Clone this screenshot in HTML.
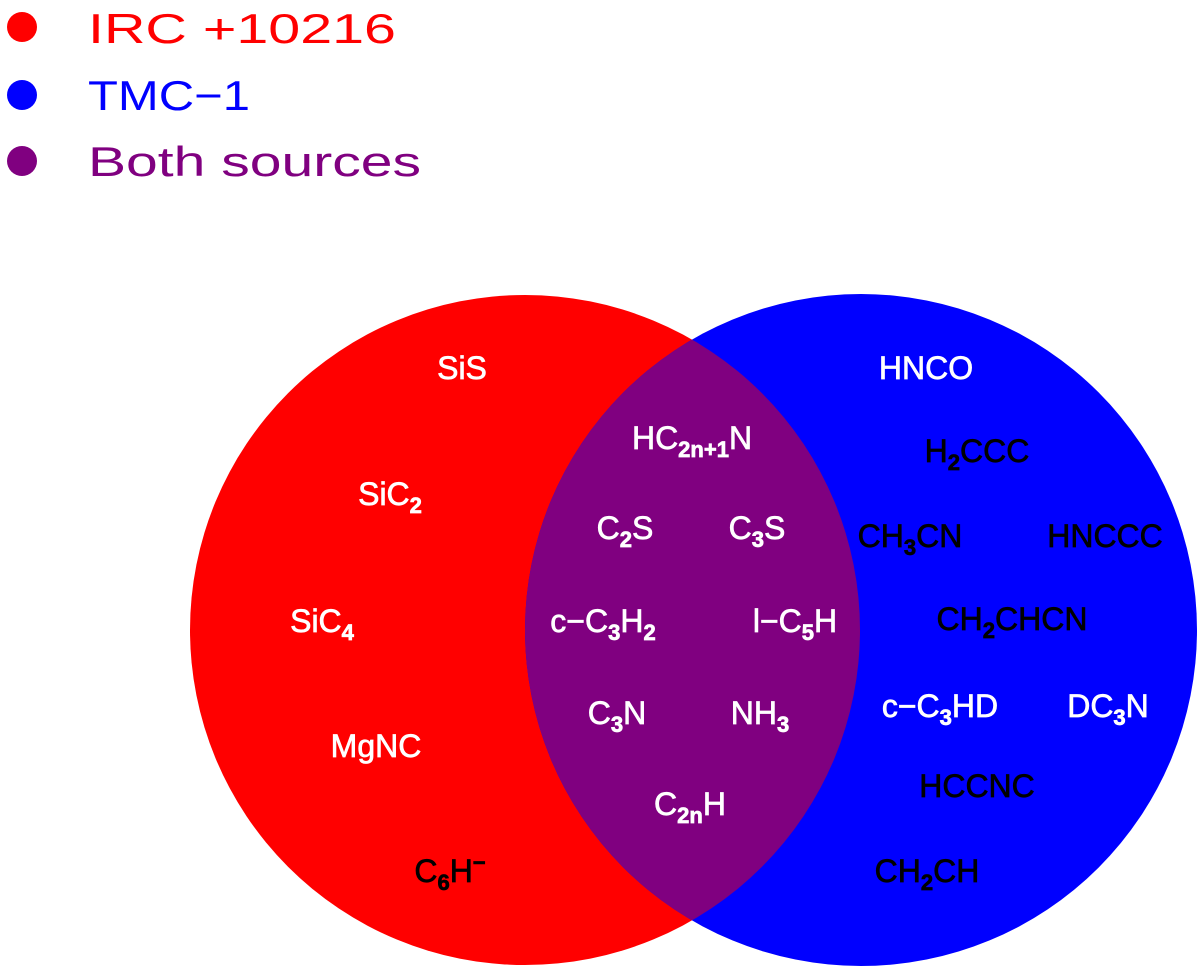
<!DOCTYPE html>
<html><head><meta charset="utf-8"><style>
html,body{margin:0;padding:0;background:#fff;}
svg{display:block;}
text{font-family:"Liberation Sans",sans-serif;}
.l{font-size:32px;text-anchor:middle;stroke-width:0.7;}
.w{fill:#fff;stroke:#fff;} .b{fill:#000;stroke:#000;}
.s{font-size:22px;font-weight:bold;}
</style></head><body>
<svg width="1200" height="969" viewBox="0 0 1200 969" xmlns="http://www.w3.org/2000/svg">
<defs><clipPath id="cr"><circle cx="525" cy="630" r="335"/></clipPath></defs>
<circle cx="22" cy="27" r="15" fill="#ff0000"/>
<circle cx="22" cy="95" r="15" fill="#0000ff"/>
<circle cx="22" cy="161" r="15" fill="#800080"/>
<text x="88" y="43" font-size="42" fill="#ff0000" textLength="308" lengthAdjust="spacingAndGlyphs">IRC +10216</text>
<text x="88" y="110" font-size="42" fill="#0000ff" textLength="162" lengthAdjust="spacingAndGlyphs">TMC−1</text>
<text x="88" y="176" font-size="42" fill="#800080" textLength="333" lengthAdjust="spacingAndGlyphs">Both sources</text>

<circle cx="525" cy="630" r="335" fill="#ff0000"/>
<circle cx="861" cy="630" r="336" fill="#0000ff"/>
<circle cx="861" cy="630" r="336" fill="#800080" clip-path="url(#cr)"/>

<g class="l w">
<text x="462" y="379">SiS</text>
<text x="390" y="505">SiC<tspan class="s" dy="8">2</tspan></text>
<text x="322" y="632">SiC<tspan class="s" dy="8">4</tspan></text>
<text x="376" y="757">MgNC</text>
<text x="692" y="449">HC<tspan class="s" dy="8">2n+1</tspan><tspan dy="-8">N</tspan></text>
<text x="625" y="539">C<tspan class="s" dy="8">2</tspan><tspan dy="-8">S</tspan></text>
<text x="757" y="539">C<tspan class="s" dy="8">3</tspan><tspan dy="-8">S</tspan></text>
<text x="603" y="632">c−C<tspan class="s" dy="8">3</tspan><tspan dy="-8">H</tspan><tspan class="s" dy="8">2</tspan></text>
<text x="795" y="632">l−C<tspan class="s" dy="8">5</tspan><tspan dy="-8">H</tspan></text>
<text x="617" y="724">C<tspan class="s" dy="8">3</tspan><tspan dy="-8">N</tspan></text>
<text x="760" y="724">NH<tspan class="s" dy="8">3</tspan></text>
<text x="690" y="815">C<tspan class="s" dy="8">2n</tspan><tspan dy="-8">H</tspan></text>
<text x="926" y="379">HNCO</text>
<text x="940" y="717">c−C<tspan class="s" dy="8">3</tspan><tspan dy="-8">HD</tspan></text>
<text x="1108" y="717">DC<tspan class="s" dy="8">3</tspan><tspan dy="-8">N</tspan></text>
</g>
<g class="l b">
<text x="450" y="882">C<tspan class="s" dy="8">6</tspan><tspan dy="-8">H</tspan><tspan class="s" dy="-12">−</tspan></text>
<text x="977" y="462">H<tspan class="s" dy="8">2</tspan><tspan dy="-8">CCC</tspan></text>
<text x="910" y="547">CH<tspan class="s" dy="8">3</tspan><tspan dy="-8">CN</tspan></text>
<text x="1105" y="547">HNCCC</text>
<text x="1012" y="630">CH<tspan class="s" dy="8">2</tspan><tspan dy="-8">CHCN</tspan></text>
<text x="977" y="797">HCCNC</text>
<text x="927" y="882">CH<tspan class="s" dy="8">2</tspan><tspan dy="-8">CH</tspan></text>
</g>
</svg>
</body></html>
